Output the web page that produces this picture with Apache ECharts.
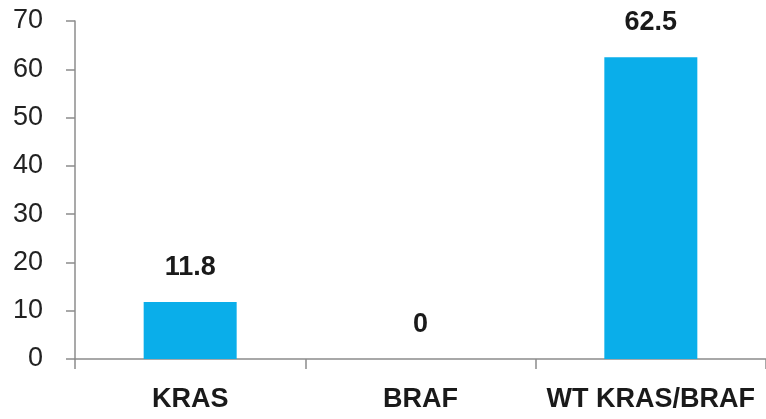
<!DOCTYPE html>
<html>
<head>
<meta charset="utf-8">
<script src="https://cdn.jsdelivr.net/npm/echarts@6/dist/echarts.min.js"></script>
<style>
  html, body { margin: 0; padding: 0; background: #fff; overflow: hidden; }
  #chart { width: 766px; height: 419px; }
</style>
</head>
<body>
<div id="chart"></div>
<script>
// Mutation groups and their percentages
const categories = ['KRAS', 'BRAF', 'WT KRAS/BRAF'];
const values = [11.8, 0, 62.5];
const yTicks = { min: 0, max: 70, step: 10 };

const chart = echarts.init(document.getElementById('chart'), null, { renderer: 'canvas' });
const axisGray = '#8c8c8c';
const font = '"Liberation Sans", Arial, sans-serif';

chart.setOption({
  animation: false,
  grid: { left: 75, top: 21, width: 696, bottom: 60, containLabel: false },
  xAxis: {
    type: 'category',
    data: categories,
    boundaryGap: true,
    axisLine: { lineStyle: { color: axisGray, width: 1.5 } },
    axisTick: { show: true, alignWithLabel: false, length: 10, lineStyle: { color: axisGray, width: 1.5 } },
    axisLabel: {
      interval: 0,
      margin: 27,
      color: '#1a1a1a',
      fontFamily: font,
      fontWeight: 'bold',
      fontSize: 27
    }
  },
  yAxis: {
    type: 'value',
    min: yTicks.min,
    max: yTicks.max,
    interval: yTicks.step,
    splitLine: { show: false },
    axisLine: { show: true, lineStyle: { color: axisGray, width: 1.5 } },
    axisTick: { show: true, length: 9, lineStyle: { color: axisGray, width: 1.5 } },
    axisLabel: {
      margin: 32,
      color: '#222',
      fontFamily: font,
      fontSize: 27
    }
  },
  series: [{
    type: 'bar',
    data: values,
    barWidth: 93,
    itemStyle: { color: '#0aaeea' },
    label: {
      show: true,
      position: 'top',
      distance: 21,
      color: '#1a1a1a',
      fontFamily: font,
      fontWeight: 'bold',
      fontSize: 27
    }
  }]
});
</script>
</body>
</html>
